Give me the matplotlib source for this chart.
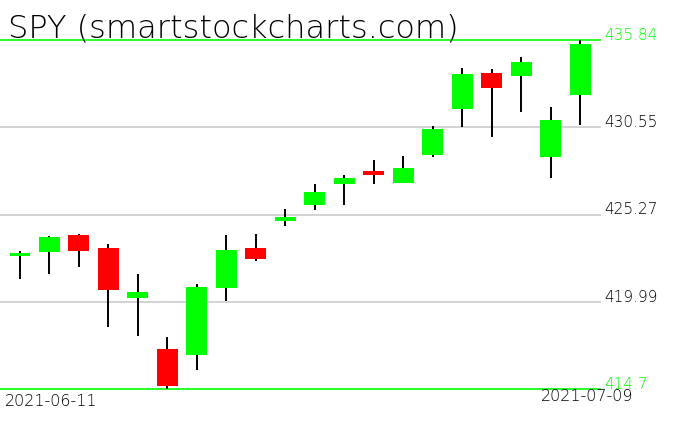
import matplotlib
matplotlib.use('Agg')
import matplotlib.pyplot as plt
import numpy as np

# daily SPY candles, 2021-06-11 .. 2021-07-09
opens  = [422.76, 423.00, 424.03, 423.24, 420.21, 417.12, 416.76, 420.82, 423.24, 424.88,
          425.85, 427.12, 427.91, 427.18, 428.87, 431.66, 433.84, 433.66, 428.75, 432.51]
highs  = [423.06, 423.97, 424.09, 423.48, 421.67, 417.85, 421.06, 424.03, 424.09, 425.60,
          427.12, 427.66, 428.57, 428.81, 430.63, 434.14, 434.08, 434.81, 431.78, 435.84]
lows   = [421.36, 421.67, 422.09, 418.46, 417.91, 414.70, 415.85, 420.03, 422.45, 424.57,
          425.54, 425.85, 427.12, 427.18, 428.75, 430.57, 429.96, 431.48, 427.48, 430.69]
closes = [422.94, 423.91, 423.06, 420.70, 420.58, 414.88, 420.88, 423.12, 422.58, 425.12,
          426.63, 427.48, 427.66, 428.09, 430.45, 433.78, 432.93, 434.51, 430.99, 435.59]

levels = [435.84, 430.55, 425.27, 419.99, 414.7]
level_labels = ['435.84', '430.55', '425.27', '419.99', '414.7']
first_date = '2021-06-11'
last_date = '2021-07-09'

plt.rcParams['font.family'] = ['DejaVu Sans']
plt.rcParams['font.weight'] = 'light'

W, H = 676, 431
fig = plt.figure(figsize=(W / 100, H / 100), dpi=100)
# plot area: x 0..600 px, y 41..390 px
ax = fig.add_axes([0, 1 - 390 / H, 600 / W, (390 - 41) / H])
ax.set_ylim(levels[-1], levels[0])
ax.set_xlim(-20 / 29.5, 580 / 29.5)
ax.axis('off')

x = np.arange(len(opens))
o = np.array(opens)
c = np.array(closes)

for i, lv in enumerate(levels):
    col = '#00ff00' if i in (0, len(levels) - 1) else '#cccccc'
    ax.axhline(lv, color=col, lw=1.2, zorder=1, clip_on=False)

ax.vlines(x, lows, highs, color='black', lw=1.4, zorder=2, clip_on=False)
cols = ['#00ff00' if cc >= oo else '#ff0000' for oo, cc in zip(o, c)]
ax.bar(x, np.maximum(np.abs(c - o), 0.08), bottom=np.minimum(o, c), width=21 / 29.5,
       color=cols, zorder=3, clip_on=False)

# price labels on right
for i, lv in enumerate(levels):
    col = '#00ff00' if i in (0, len(levels) - 1) else 'black'
    ypx = 41 + (levels[0] - lv) / (levels[0] - levels[-1]) * 349
    fig.text(604 / W, 1 - (ypx - 1) / H, level_labels[i], color=col, fontsize=11,
             va='baseline', ha='left')

fig.text(8 / W, 1 - 37 / H, 'SPY (smartstockcharts.com)', fontsize=23, va='baseline',
         ha='left', color='black', zorder=5)
fig.text(5 / W, 1 - 406 / H, first_date, fontsize=11.5, va='baseline', ha='left')
fig.text(541 / W, 1 - 401 / H, last_date, fontsize=11.5, va='baseline', ha='left')

fig.savefig('out.png', dpi=100)
